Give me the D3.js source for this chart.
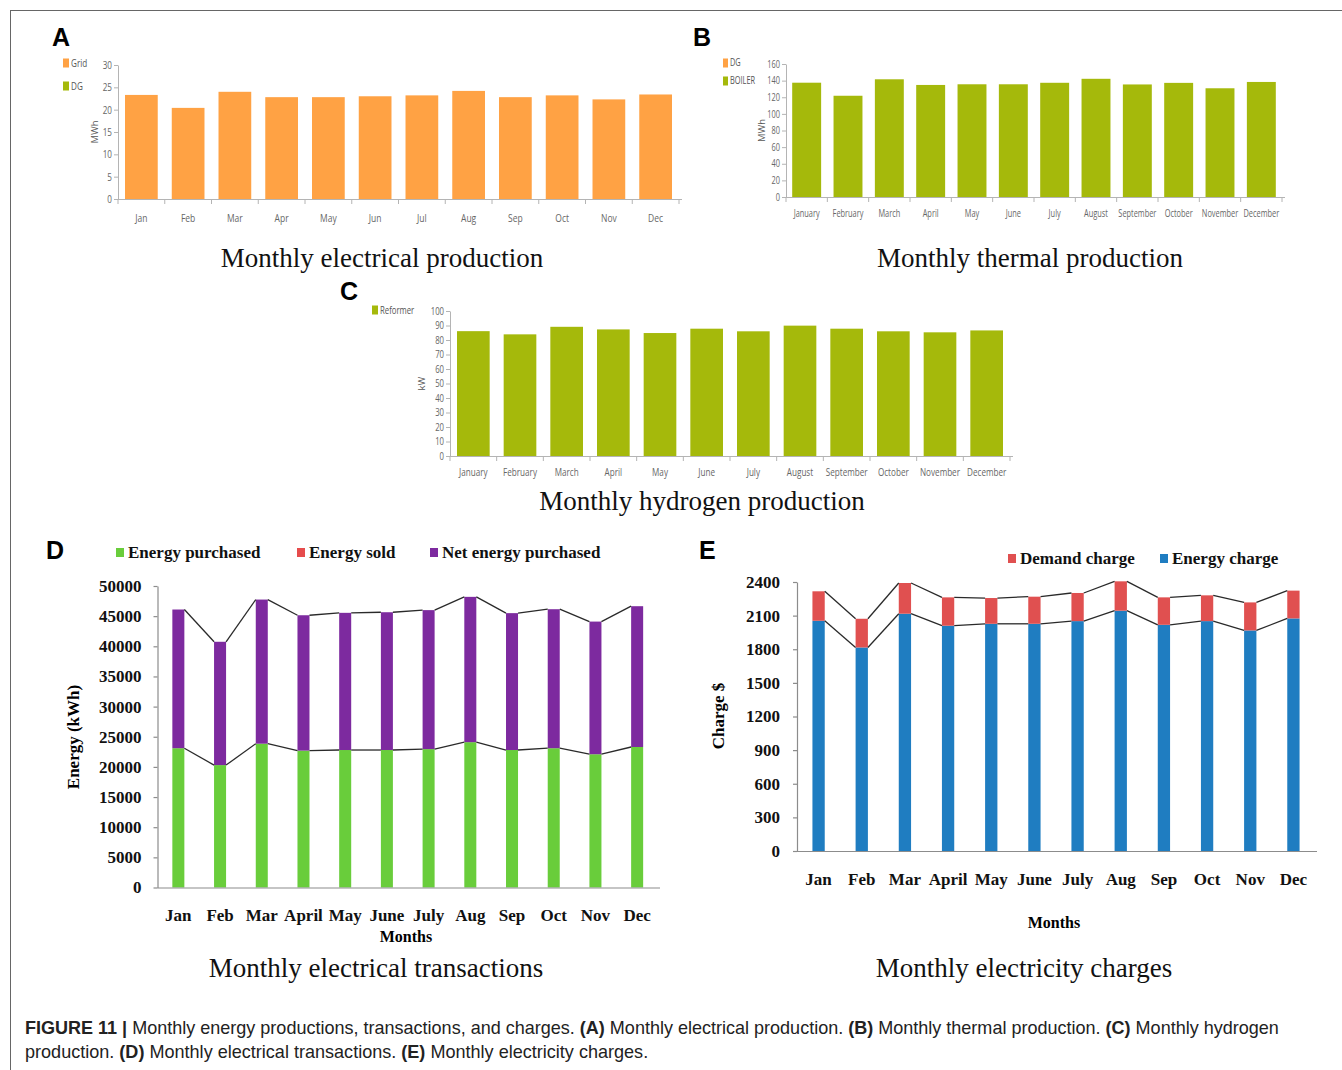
<!DOCTYPE html>
<html>
<head>
<meta charset="utf-8">
<title>Figure 11 - Monthly energy productions, transactions, and charges</title>
<script src="https://d3js.org/d3.v7.min.js"></script>
<style>
  body { margin: 0; background: #fff; }
</style>
</head>
<body>
<svg id="fig" width="1342" height="1070"></svg>
<script>

// ---- data ----
const monthsShort = ["Jan", "Feb", "Mar", "Apr", "May", "Jun", "Jul", "Aug", "Sep", "Oct", "Nov", "Dec"];
const monthsLong = ["January", "February", "March", "April", "May", "June", "July", "August", "September", "October", "November", "December"];
const monthsExcel = ["Jan", "Feb", "Mar", "April", "May", "June", "July", "Aug", "Sep", "Oct", "Nov", "Dec"];

// (A) electrical production, MWh
const gridMWh = [23.3, 20.4, 24.0, 22.8, 22.8, 23.0, 23.2, 24.2, 22.8, 23.2, 22.3, 23.4];
// (B) thermal production, MWh
const boilerMWh = [137.5, 121.8, 141.6, 134.8, 135.6, 135.6, 137.4, 142.2, 135.4, 137.3, 130.8, 138.4];
// (C) hydrogen production, kW
const reformerKW = [86.1, 83.9, 89.1, 87.3, 84.8, 87.8, 86.0, 89.9, 87.8, 86.0, 85.3, 86.6];
// (D) electrical transactions, kWh
const energyPurchased = [23100, 20300, 23850, 22700, 22800, 22800, 22950, 24100, 22800, 23100, 22100, 23300];
const energySold = [0, 0, 0, 0, 0, 0, 0, 0, 0, 0, 0, 0];
const netEnergyPurchased = [23000, 20450, 23900, 22450, 22750, 22850, 23050, 24100, 22700, 23050, 22000, 23350];
// (E) electricity charges, $
const energyCharge = [2054, 1816, 2117, 2010, 2027, 2027, 2051, 2144, 2018, 2051, 1968, 2075];
const demandCharge = [263, 256, 274, 253, 230, 242, 251, 262, 245, 230, 250, 248];

const ticksA = [0, 5, 10, 15, 20, 25, 30];
const ticksB = [0, 20, 40, 60, 80, 100, 120, 140, 160];
const ticksC = [0, 10, 20, 30, 40, 50, 60, 70, 80, 90, 100];
const ticksD = [0, 5000, 10000, 15000, 20000, 25000, 30000, 35000, 40000, 45000, 50000];
const ticksE = [0, 300, 600, 900, 1200, 1500, 1800, 2100, 2400];

const uiFont = "'Open Sans','Noto Sans',sans-serif";
const serif = "'Liberation Serif','Times New Roman',serif";
const sans = "'Liberation Sans',Arial,sans-serif";
const SQ = 0.74;   // the small web charts are horizontally squeezed in the source

var svg = d3.select("#fig");

// squeeze text horizontally around its own anchor
function squeeze(sel, s) {
  sel.each(function () {
    var t = d3.select(this);
    var x = +t.attr("x") || 0;
    var prev = t.attr("transform");
    t.attr("x", x / s).attr("transform", (prev ? prev + " " : "") + "scale(" + s + ",1)");
  });
}

// figure frame (top and left rule)
svg.append("line").attr("x1", 10).attr("y1", 10.5).attr("x2", 1342).attr("y2", 10.5).attr("stroke", "#666");
svg.append("line").attr("x1", 10.5).attr("y1", 10).attr("x2", 10.5).attr("y2", 1070).attr("stroke", "#666");

function panelLetter(txt, x, y) {
  svg.append("text").attr("x", x).attr("y", y).text(txt)
    .style("font-family", sans).style("font-weight", "bold").style("font-size", "25px");
}

function panelTitle(txt, x, y) {
  svg.append("text").attr("x", x).attr("y", y).attr("text-anchor", "middle").text(txt)
    .style("font-family", serif).style("font-size", "27px").style("fill", "#111");
}

// small web-style bar chart (panels A, B, C)
function productionPanel(p) {
  var g = svg.append("g");
  var x = d3.scaleBand().domain(p.labels).range([p.left, p.right]).paddingInner(0.3).paddingOuter(0.15);
  var y = d3.scaleLinear().domain([0, p.ticks[p.ticks.length - 1]]).range([p.bottom, p.top]);

  g.selectAll("rect.bar")
    .data(p.values)
    .enter()
    .append("rect")
    .attr("class", "bar")
    .attr("x", function (d, i) { return x(p.labels[i]); })
    .attr("width", x.bandwidth())
    .attr("y", function (d) { return y(d); })
    .attr("height", function (d) { return y(0) - y(d); })
    .attr("fill", p.color);

  var yAxis = g.append("g")
    .attr("transform", "translate(" + p.left + ",0)")
    .call(d3.axisLeft(y).tickValues(p.ticks).tickSize(4).tickSizeOuter(0).tickPadding(2));
  yAxis.selectAll("text").style("font-family", uiFont).style("font-size", p.tickFont + "px").style("fill", "#666");
  squeeze(yAxis.selectAll("text"), SQ);

  var xAxis = g.append("g")
    .attr("transform", "translate(0," + p.bottom + ")")
    .call(d3.axisBottom(x).tickSize(0).tickSizeOuter(0).tickPadding(p.labelY - p.bottom - 0.36 * p.labelFont));
  xAxis.selectAll("text").style("font-family", uiFont).style("font-size", p.labelFont + "px").style("fill", "#666");
  squeeze(xAxis.selectAll("text"), SQ);
  xAxis.select(".domain").attr("d", "M" + p.left + ",0.5H" + (p.right + 3));

  // category boundary ticks under the axis
  var bounds = p.labels.map(function (d) { return x(d) - x.step() * 0.15; });
  bounds.push(p.right);
  xAxis.selectAll("line.bound")
    .data(bounds)
    .enter()
    .append("line")
    .attr("class", "bound")
    .attr("x1", function (d) { return d; }).attr("x2", function (d) { return d; })
    .attr("y1", 0).attr("y2", 5);

  g.selectAll(".domain, .tick line, line.bound").attr("stroke", "#b4b4b4");

  g.append("text")
    .attr("transform", "translate(" + p.yLabelX + "," + ((p.top + p.bottom) / 2) + ") rotate(-90)")
    .attr("text-anchor", "middle").attr("dy", "0.35em")
    .text(p.yLabel)
    .style("font-family", uiFont).style("font-size", "9.5px").style("fill", "#555");

  p.legend.forEach(function (l, i) {
    g.append("rect").attr("x", p.legendX).attr("y", p.legendY + i * p.legendGap - 4.5)
      .attr("width", p.swatchW).attr("height", 9).attr("fill", l.color);
    var lt = g.append("text").attr("x", p.legendX + p.swatchW + 2).attr("y", p.legendY + i * p.legendGap)
      .attr("dy", "0.35em").text(l.name)
      .style("font-family", uiFont).style("font-size", p.legendFont + "px").style("fill", "#555");
    squeeze(lt, SQ);
  });
}

// Excel-style stacked column chart with series lines (panels D, E)
function stackedPanel(p) {
  var g = svg.append("g");
  var rows = p.labels.map(function (m, i) {
    var r = { month: m };
    p.series.forEach(function (s) { r[s.name] = s.values[i]; });
    return r;
  });
  var stack = d3.stack().keys(p.series.map(function (s) { return s.name; }))(rows);

  var x = d3.scaleBand().domain(p.labels).range([p.left, p.right]).paddingInner(p.pad).paddingOuter(p.pad / 2);
  var y = d3.scaleLinear().domain([0, p.ticks[p.ticks.length - 1]]).range([p.bottom, p.top]);

  stack.forEach(function (layer, k) {
    g.append("g").selectAll("rect")
      .data(layer)
      .enter()
      .append("rect")
      .attr("x", function (d) { return x(d.data.month); })
      .attr("width", x.bandwidth())
      .attr("y", function (d) { return y(d[1]); })
      .attr("height", function (d) { return y(d[0]) - y(d[1]); })
      .attr("fill", p.series[k].color);
  });

  // series lines joining the tops of neighbouring columns
  stack.forEach(function (layer, k) {
    if (!p.series[k].line) return;
    var segs = d3.pairs(layer);
    g.append("g").selectAll("line")
      .data(segs)
      .enter()
      .append("line")
      .attr("x1", function (d) { return x(d[0].data.month) + x.bandwidth(); })
      .attr("y1", function (d) { return y(d[0][1]); })
      .attr("x2", function (d) { return x(d[1].data.month); })
      .attr("y2", function (d) { return y(d[1][1]); })
      .attr("stroke", "#2a2a2a").attr("stroke-width", 1.3);
  });

  var yAxis = g.append("g")
    .attr("transform", "translate(" + p.left + ",0)")
    .call(d3.axisLeft(y).tickValues(p.ticks).tickFormat(d3.format("d")).tickSize(4).tickSizeOuter(0).tickPadding(p.tickPad));
  yAxis.selectAll("text").style("font-family", serif).style("font-weight", "bold").style("font-size", "17px").style("fill", "#111");

  var xAxis = g.append("g")
    .attr("transform", "translate(0," + p.bottom + ")")
    .call(d3.axisBottom(x).tickSize(0).tickSizeOuter(0).tickPadding(p.labelY - p.bottom - 0.36 * 17));
  xAxis.selectAll("text").style("font-family", serif).style("font-weight", "bold").style("font-size", "17px").style("fill", "#111");
  xAxis.select(".domain").attr("d", "M" + p.left + ",0.5H" + (p.right + 2));

  g.selectAll(".domain, .tick line").attr("stroke", "#8c8c8c").attr("stroke-width", 1.2);

  g.append("text")
    .attr("x", p.xTitleX).attr("y", p.xTitleY).attr("text-anchor", "middle").text("Months")
    .style("font-family", serif).style("font-weight", "bold").style("font-size", "16px");

  g.append("text")
    .attr("transform", "translate(" + p.yTitleX + "," + p.yTitleY + ") rotate(-90)")
    .attr("text-anchor", "middle").attr("dy", "0.35em").text(p.yTitle)
    .style("font-family", serif).style("font-weight", "bold").style("font-size", "17px");

  p.legend.forEach(function (l) {
    g.append("rect").attr("x", l.x).attr("y", p.legendY - 10).attr("width", 8).attr("height", 9).attr("fill", l.color);
    g.append("text").attr("x", l.x + 12).attr("y", p.legendY).text(l.name)
      .style("font-family", serif).style("font-weight", "bold").style("font-size", "17px").style("fill", "#111");
  });
}

// ---- A ----
panelLetter("A", 52, 46);
productionPanel({
  labels: monthsShort, values: gridMWh, ticks: ticksA, color: "#ffa244",
  left: 118, right: 679, top: 65, bottom: 199,
  tickFont: 11, labelFont: 11.5, labelY: 218,
  yLabel: "MWh", yLabelX: 95,
  legendX: 63, legendY: 63, legendGap: 23, swatchW: 6, legendFont: 11,
  legend: [{ name: "Grid", color: "#ffa244" }, { name: "DG", color: "#a5b90b" }]
});
panelTitle("Monthly electrical production", 382, 267);

// ---- B ----
panelLetter("B", 693, 46);
productionPanel({
  labels: monthsLong, values: boilerMWh, ticks: ticksB, color: "#a5b90b",
  left: 786, right: 1282, top: 64, bottom: 197,
  tickFont: 10, labelFont: 10, labelY: 214,
  yLabel: "MWh", yLabelX: 762,
  legendX: 723, legendY: 63, legendGap: 18, swatchW: 5, legendFont: 10,
  legend: [{ name: "DG", color: "#ffa244" }, { name: "BOILER", color: "#a5b90b" }]
});
panelTitle("Monthly thermal production", 1030, 267);

// ---- C ----
panelLetter("C", 340, 300);
productionPanel({
  labels: monthsLong, values: reformerKW, ticks: ticksC, color: "#a5b90b",
  left: 450, right: 1010, top: 311, bottom: 456,
  tickFont: 10.5, labelFont: 11, labelY: 472,
  yLabel: "kW", yLabelX: 422,
  legendX: 372, legendY: 310, legendGap: 18, swatchW: 6, legendFont: 10.5,
  legend: [{ name: "Reformer", color: "#a5b90b" }]
});
panelTitle("Monthly hydrogen production", 702, 510);

// ---- D ----
panelLetter("D", 46, 559);
stackedPanel({
  labels: monthsExcel, ticks: ticksD,
  series: [
    { name: "Energy purchased", values: energyPurchased, color: "#69cd3b", line: true },
    { name: "Energy sold", values: energySold, color: "#e64c4c", line: false },
    { name: "Net energy purchased", values: netEnergyPurchased, color: "#7d2a9f", line: true }
  ],
  left: 157.5, right: 658, top: 586, bottom: 887.5, pad: 0.712, tickPad: 12,
  labelY: 915, xTitleX: 406, xTitleY: 942, yTitle: "Energy (kWh)", yTitleX: 73, yTitleY: 737,
  legendY: 558,
  legend: [
    { name: "Energy purchased", color: "#69cd3b", x: 116 },
    { name: "Energy sold", color: "#e64c4c", x: 297 },
    { name: "Net energy purchased", color: "#7d2a9f", x: 430 }
  ]
});
panelTitle("Monthly electrical transactions", 376, 977);

// ---- E ----
panelLetter("E", 699, 559);
stackedPanel({
  labels: monthsExcel, ticks: ticksE,
  series: [
    { name: "Energy charge", values: energyCharge, color: "#1f7dc1", line: true },
    { name: "Demand charge", values: demandCharge, color: "#e05050", line: true }
  ],
  left: 797, right: 1315, top: 582, bottom: 851, pad: 0.715, tickPad: 13,
  labelY: 879, xTitleX: 1054, xTitleY: 928, yTitle: "Charge $", yTitleX: 718, yTitleY: 716,
  legendY: 564,
  legend: [
    { name: "Demand charge", color: "#e05050", x: 1008 },
    { name: "Energy charge", color: "#1f7dc1", x: 1160 }
  ]
});
panelTitle("Monthly electricity charges", 1024, 977);

// ---- caption ----
var captionLines = [
  [["FIGURE 11 | ", true], ["Monthly energy productions, transactions, and charges. ", false], ["(A)", true], [" Monthly electrical production. ", false],
   ["(B)", true], [" Monthly thermal production. ", false], ["(C)", true], [" Monthly hydrogen", false]],
  [["production. ", false], ["(D)", true], [" Monthly electrical transactions. ", false], ["(E)", true], [" Monthly electricity charges.", false]]
];
var captionWidths = [1255, 624];
captionLines.forEach(function (parts, i) {
  var t = svg.append("text").attr("x", 25).attr("y", 1034 + i * 24.5)
    .style("font-family", sans).style("font-size", "18px").style("fill", "#222")
    .attr("xml:space", "preserve");
  parts.forEach(function (p) {
    t.append("tspan").text(p[0]).style("font-weight", p[1] ? "bold" : "normal");
  });
  var w = t.node().getComputedTextLength();
  var sx = captionWidths[i] / w;
  t.attr("transform", "translate(25,0) scale(" + sx + ",1) translate(-25,0)");
});

</script>
</body>
</html>
